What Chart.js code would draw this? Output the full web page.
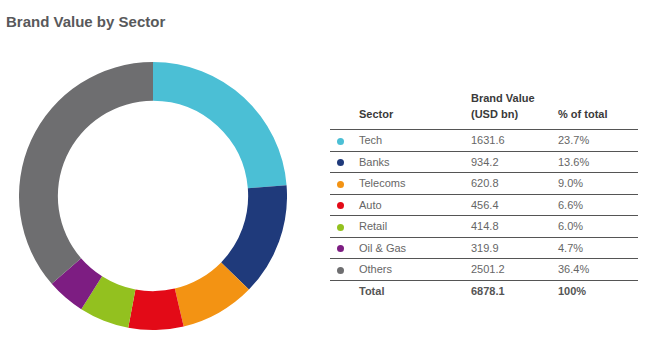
<!DOCTYPE html>
<html>
<head>
<meta charset="utf-8">
<script src="https://cdn.jsdelivr.net/npm/chart.js@4"></script>
<style>
  body { margin: 0; width: 655px; height: 354px; background: #fff; font-family: "Liberation Sans", Arial, sans-serif; position: relative; overflow: hidden; }
  #title { position: absolute; left: 6px; top: 13px; font-size: 15px; font-weight: bold; color: #58595b; }
  #chart_box { position: absolute; left: 19px; top: 62px; width: 268px; height: 268px; }
  #sector_table { position: absolute; left: 330px; top: 90px; width: 308px; border-collapse: collapse; font-size: 11px; color: #666; table-layout: fixed; }
  #sector_table th { font-weight: bold; color: #3a3a3a; text-align: left; vertical-align: bottom; padding: 0 0 7px 0; line-height: 16px; border-bottom: 1px solid #555; }
  #sector_table td { height: 20.5px; padding: 0; border-bottom: 1px solid #555; line-height: 14px; }
  #sector_table tr.total td { border-bottom: none; font-weight: bold; color: #555; }
  .dot { display: inline-block; width: 7px; height: 7px; border-radius: 50%; margin-left: 7px; vertical-align: middle; }
</style>
</head>
<body>
<div id="title">Brand Value by Sector</div>
<div id="chart_box"><canvas id="brand_chart"></canvas></div>
<table id="sector_table">
  <colgroup><col style="width:29px"><col style="width:112px"><col style="width:87px"><col style="width:80px"></colgroup>
  <thead><tr><th></th><th>Sector</th><th>Brand Value<br>(USD bn)</th><th>% of total</th></tr></thead>
  <tbody id="table_body"></tbody>
</table>
<script>
const sectors = ['Tech', 'Banks', 'Telecoms', 'Auto', 'Retail', 'Oil & Gas', 'Others']
const brand_values = [1631.6, 934.2, 620.8, 456.4, 414.8, 319.9, 2501.2]
const perc_of_total = ['23.7%', '13.6%', '9.0%', '6.6%', '6.0%', '4.7%', '36.4%']
const total_value = '6878.1'
const total_perc = '100%'
const sector_colors = ['#4bbfd5', '#1f3a7b', '#f39313', '#e30a17', '#93c11f', '#7d1d82', '#6e6e70']

const table_body = document.getElementById('table_body')
sectors.forEach((sector, i) => {
  const tr = document.createElement('tr')
  tr.innerHTML = `<td><span class="dot" style="background:${sector_colors[i]}"></span></td>` +
    `<td>${sector.replace('&', '&amp;')}</td><td>${brand_values[i].toFixed(1)}</td><td>${perc_of_total[i]}</td>`
  table_body.appendChild(tr)
})
const total_row = document.createElement('tr')
total_row.className = 'total'
total_row.innerHTML = `<td></td><td>Total</td><td>${total_value}</td><td>${total_perc}</td>`
table_body.appendChild(total_row)

const ctx = document.getElementById('brand_chart').getContext('2d')
new Chart(ctx, {
  type: 'doughnut',
  data: {
    labels: sectors,
    datasets: [{
      data: brand_values,
      backgroundColor: sector_colors,
      borderWidth: 0
    }]
  },
  options: {
    responsive: true,
    maintainAspectRatio: false,
    animation: false,
    cutout: '71%',
    layout: { padding: 0 },
    plugins: {
      legend: { display: false },
      tooltip: { enabled: false }
    }
  }
})
</script>
</body>
</html>
